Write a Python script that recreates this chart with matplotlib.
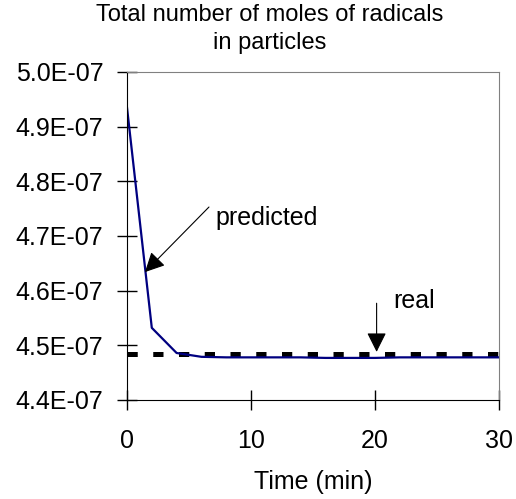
import numpy as np
import matplotlib.pyplot as plt
import matplotlib as mpl
from matplotlib.ticker import FuncFormatter

mpl.rcParams['font.family'] = ['Liberation Sans', 'DejaVu Sans']
mpl.rcParams['font.size'] = 18

# data (time in min, moles)
t_pred = [0, 2, 4, 6, 8, 10, 12, 14, 16, 18, 20, 22, 24, 26, 28, 30]
n_pred = [4.935e-7, 4.532e-7, 4.486e-7, 4.479e-7, 4.478e-7, 4.478e-7, 4.478e-7,
          4.478e-7, 4.477e-7, 4.477e-7, 4.477e-7, 4.478e-7, 4.478e-7, 4.478e-7,
          4.478e-7, 4.478e-7]
t_real = [0, 30]
n_real = [4.484e-7, 4.484e-7]

fig = plt.figure(figsize=(5.16, 4.99), dpi=100)
ax = fig.add_axes([127/516, 1 - 400/499, 372/516, 328/499])

ax.plot(t_real, n_real, color='black', lw=3.6, ls=(0, (2.05, 3.1)), solid_capstyle='butt')
ax.plot(t_pred, n_pred, color='#000080', lw=1.6)

ax.set_xlim(0, 30)
ax.set_ylim(4.4e-7, 5.0e-7)
ax.set_xticks([0, 10, 20, 30])
ax.set_yticks(np.arange(4.4e-7, 5.01e-7, 0.1e-7))
ax.yaxis.set_major_formatter(FuncFormatter(lambda v, p: '%.1E' % v))
ax.tick_params(direction='inout', length=14, width=1, pad=10)
ax.tick_params(axis='x', pad=14)
for s in ['top', 'right']:
    ax.spines[s].set_color('#808080')
ax.set_xlabel('Time (min)', labelpad=12)

fig.text(270/516, 1 - 29/499, 'Total number of moles of radicals\nin particles',
         ha='center', va='center', fontsize=17, linespacing=1.3)

# arrows and labels
ax.annotate('', xy=(1.45, 4.634e-7), xytext=(6.61, 4.753e-7),
            arrowprops=dict(arrowstyle='-|>', color='black', lw=0.8,
                            mutation_scale=30, shrinkA=0, shrinkB=0))
ax.text(7.1, 4.733e-7, 'predicted', va='center', ha='left')
ax.annotate('', xy=(20.13, 4.488e-7), xytext=(20.13, 4.577e-7),
            arrowprops=dict(arrowstyle='-|>', color='black', lw=0.8,
                            mutation_scale=30, shrinkA=0, shrinkB=0))
ax.text(21.45, 4.581e-7, 'real', va='center', ha='left')

fig.savefig('out.png', dpi=100)
